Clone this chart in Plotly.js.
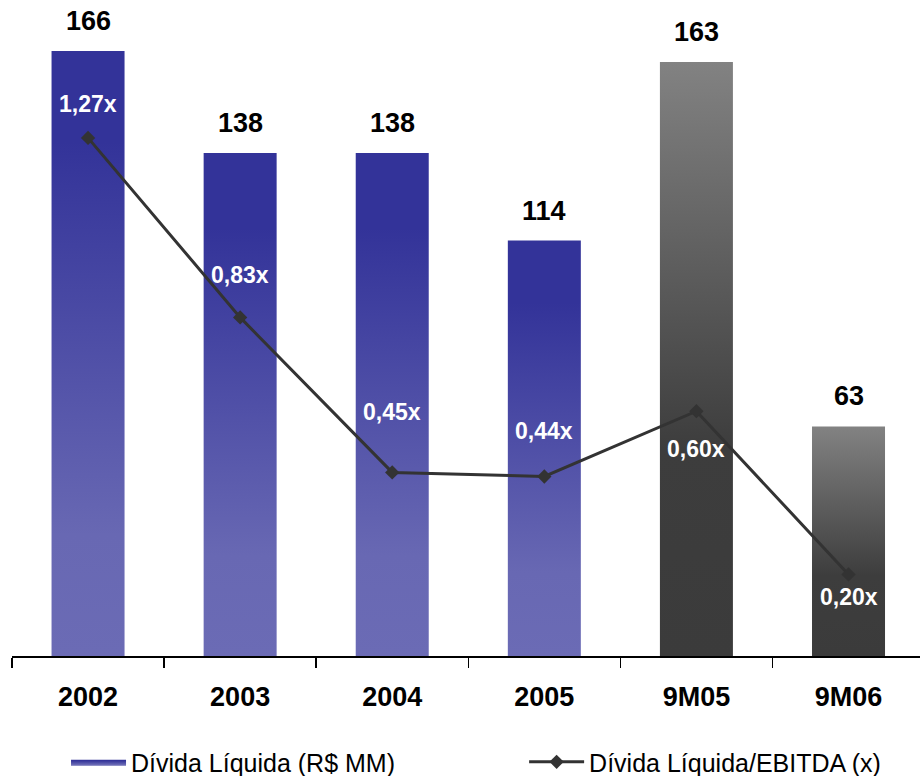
<!DOCTYPE html>
<html>
<head>
<meta charset="utf-8">
<script src="https://cdn.plot.ly/plotly-3.0.1.min.js"></script>
<style>html,body{margin:0;padding:0;background:#fff;}#chart{width:920px;height:776px;}</style>
</head>
<body>
<div id="chart"></div>
<script>
var categories = ['2002', '2003', '2004', '2005', '9M05', '9M06'];
var debt = [166, 138, 138, 114, 163, 63];
var ratio = [1.27, 0.83, 0.45, 0.44, 0.60, 0.20];
var ratioLabels = ['1,27x', '0,83x', '0,45x', '0,44x', '0,60x', '0,20x'];
var isPartialYear = [false, false, false, false, true, true];
var debtName = 'Dívida Líquida (R$ MM)';
var ratioName = 'Dívida Líquida/EBITDA (x)';

var FONT = 'Liberation Sans, Arial, sans-serif';
var halfW = 0.24;
var blueScale = [[0, '#6b6bb5'], [0.2, '#6868b3'], [0.85, '#333399'], [1, '#333399']];
var grayScale = [[0, '#3b3b3b'], [0.35, '#3d3d3d'], [1, '#828282']];

var traces = [];
var shownBlue = false;
categories.forEach(function (c, i) {
  var v = debt[i];
  var gray = isPartialYear[i];
  var t = {
    type: 'scatter',
    x: [i - halfW, i + halfW, i + halfW, i - halfW, i - halfW],
    y: [0, 0, v, v, 0],
    mode: 'lines',
    fill: 'toself',
    line: {width: 0, color: gray ? '#555555' : '#4a4aa6'},
    fillgradient: {type: 'vertical', colorscale: gray ? grayScale : blueScale, start: 0, stop: v},
    name: debtName,
    legendgroup: 'debt',
    legend: 'legend',
    showlegend: !gray && !shownBlue,
    hoverinfo: 'skip',
    xaxis: 'x', yaxis: 'y'
  };
  if (!gray) shownBlue = true;
  traces.push(t);
});

traces.push({
  type: 'scatter',
  x: categories.map(function (c, i) { return i; }),
  y: ratio,
  mode: 'lines+markers',
  line: {color: '#333333', width: 3},
  marker: {symbol: 'diamond', size: 11, color: '#333333'},
  name: ratioName,
  legend: 'legend2',
  yaxis: 'y2',
  xaxis: 'x'
});

var labelShift = [34, 42, 60, 46, -38, -23];
var annotations = [];
categories.forEach(function (c, i) {
  annotations.push({
    x: i, y: debt[i], xref: 'x', yref: 'y',
    text: '<b>' + debt[i] + '</b>', showarrow: false,
    yanchor: 'bottom', yshift: 13,
    font: {family: FONT, size: 27, color: '#000000'}
  });
  annotations.push({
    x: i, y: ratio[i], xref: 'x', yref: 'y2',
    text: '<b>' + ratioLabels[i] + '</b>', showarrow: false,
    yanchor: 'middle', yshift: labelShift[i],
    font: {family: FONT, size: 23, color: '#ffffff'}
  });
});

var legendBase = {
  orientation: 'h', xanchor: 'left', yref: 'container', y: 0.018, yanchor: 'middle',
  font: {family: FONT, size: 25, color: '#000000'},
  itemwidth: 55, bgcolor: 'rgba(0,0,0,0)'
};

var layout = {
  width: 920, height: 776,
  margin: {l: 12, r: 0, t: 0, b: 120, autoexpand: false},
  paper_bgcolor: '#ffffff', plot_bgcolor: '#ffffff',
  showlegend: true,
  legend: Object.assign({}, legendBase, {x: 0.0595}),
  legend2: Object.assign({}, legendBase, {x: 0.564}),
  xaxis: {
    range: [-0.5, 5.47], showgrid: false, zeroline: false,
    tickmode: 'array', tickvals: categories.map(function (c, i) { return i; }), ticktext: categories,
    ticks: '', showline: true, linecolor: '#000000', linewidth: 1.5,
    tickfont: {family: FONT, size: 27, color: '#000000', weight: 'bold'},
    ticklabelstandoff: 16,
    minor: {tick0: -0.5, dtick: 1, ticks: 'outside', ticklen: 10, tickwidth: 1.5, tickcolor: '#000000', showgrid: false}
  },
  yaxis: {range: [0, 180], visible: false, showgrid: false, zeroline: false, fixedrange: true},
  yaxis2: {range: [0, 1.608], overlaying: 'y', visible: false, showgrid: false, zeroline: false},
  annotations: annotations,
  font: {family: FONT}
};

Plotly.newPlot('chart', traces, layout, {displayModeBar: false, staticPlot: true});
</script>
</body>
</html>
